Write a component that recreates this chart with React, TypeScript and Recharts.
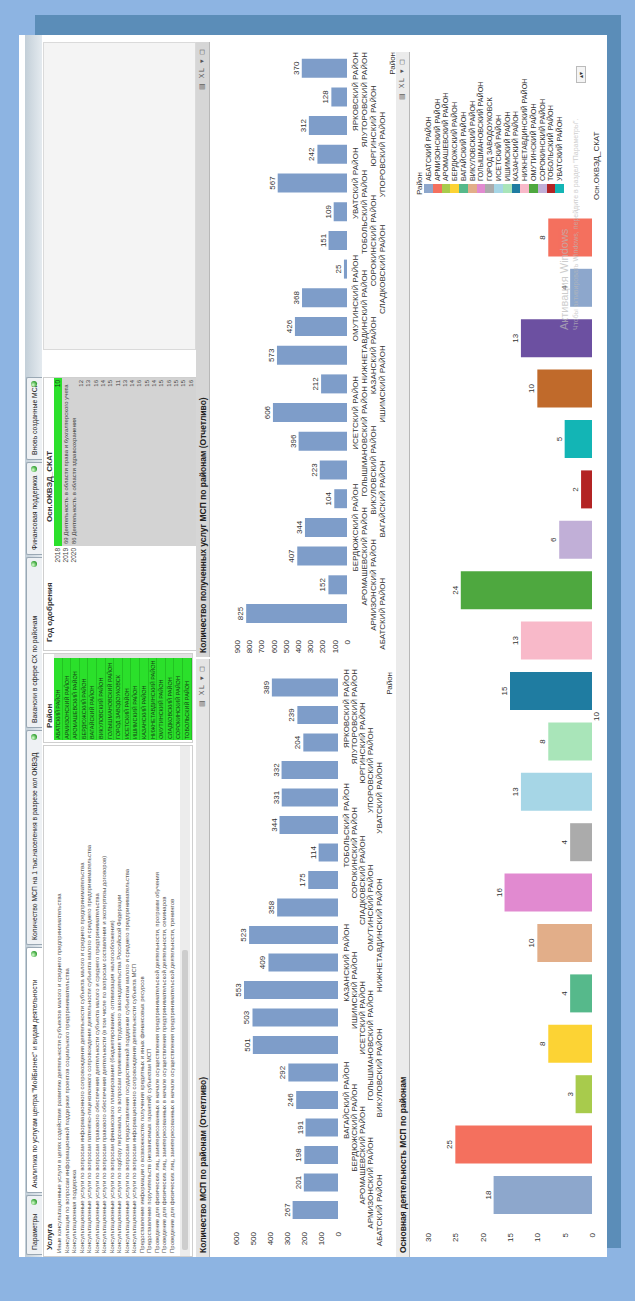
import { BarChart, Bar, XAxis, YAxis, LabelList } from "recharts";

const FONT = "'Liberation Sans', Arial, sans-serif";
const BAR_BLUE = "#7E9DC9";

// --- chart data ---
const districts = [
  "АБАТСКИЙ РАЙОН", "АРМИЗОНСКИЙ РАЙОН", "АРОМАШЕВСКИЙ РАЙОН", "БЕРДЮЖСКИЙ РАЙОН", "ВАГАЙСКИЙ РАЙОН",
  "ВИКУЛОВСКИЙ РАЙОН", "ГОЛЫШМАНОВСКИЙ РАЙОН", "ИСЕТСКИЙ РАЙОН", "ИШИМСКИЙ РАЙОН", "КАЗАНСКИЙ РАЙОН",
  "НИЖНЕТАВДИНСКИЙ РАЙОН", "ОМУТИНСКИЙ РАЙОН", "СЛАДКОВСКИЙ РАЙОН", "СОРОКИНСКИЙ РАЙОН", "ТОБОЛЬСКИЙ РАЙОН",
  "УВАТСКИЙ РАЙОН", "УПОРОВСКИЙ РАЙОН", "ЮРГИНСКИЙ РАЙОН", "ЯЛУТОРОВСКИЙ РАЙОН", "ЯРКОВСКИЙ РАЙОН",
];
const mspCounts = [267, 201, 198, 191, 246, 292, 501, 503, 553, 409, 523, 358, 175, 114, 344, 331, 332, 204, 239, 389];
const serviceCounts = [825, 152, 407, 344, 104, 223, 396, 606, 212, 573, 426, 368, 25, 151, 109, 567, 242, 312, 128, 370];
const mspTicks = [0, 100, 200, 300, 400, 500, 600];
const serviceTicks = [0, 100, 200, 300, 400, 500, 600, 700, 800, 900];

const activityDistricts = [
  "АБАТСКИЙ РАЙОН", "АРМИЗОНСКИЙ РАЙОН", "АРОМАШЕВСКИЙ РАЙОН", "БЕРДЮЖСКИЙ РАЙОН", "ВАГАЙСКИЙ РАЙОН",
  "ВИКУЛОВСКИЙ РАЙОН", "ГОЛЫШМАНОВСКИЙ РАЙОН", "ГОРОД ЗАВОДОУКОВСК", "ИСЕТСКИЙ РАЙОН", "ИШИМСКИЙ РАЙОН",
  "КАЗАНСКИЙ РАЙОН", "НИЖНЕТАВДИНСКИЙ РАЙОН", "ОМУТИНСКИЙ РАЙОН", "СОРОКИНСКИЙ РАЙОН", "ТОБОЛЬСКИЙ РАЙОН",
  "УВАТСКИЙ РАЙОН", "УПОРОВСКИЙ РАЙОН", "ЮРГИНСКИЙ РАЙОН", "ЯЛУТОРОВСКИЙ РАЙОН", "ЯРКОВСКИЙ РАЙОН",
];
const activityCounts = [18, 25, 3, 8, 4, 10, 16, 4, 13, 8, 15, 13, 24, 6, 2, 5, 10, 13, 4, 8];
const activityColors = [
  "#8DA7CC", "#F4705E", "#A8CB4C", "#FCD334", "#56B98B", "#E2AE89", "#E18AD0", "#ABABAB", "#A6D6E6", "#A9E5B9",
  "#1F7CA1", "#F8B9C9", "#4EA83F", "#C1AFD7", "#B32424", "#13B5B5", "#C06A2B", "#6C50A1", "#8DA7CC", "#F4705E",
];
const activityTicks = [0, 5, 10, 15, 20, 25, 30];
const okvedCode = "10";

// --- list boxes / tabs ---
const tabs = [
  { label: "Параметры", from: 2, to: 62, active: false },
  { label: 'Аналитика по услугам центра "МойБизнес" и видам деятельности', from: 64, to: 310, active: true },
  { label: "Количество МСП на 1 тыс.населения в разрезе кол ОКВЭД", from: 312, to: 527, active: false },
  { label: "Вакансии в сфере СХ по районам", from: 529, to: 700, active: false },
  { label: "Финансовая поддержка", from: 702, to: 795, active: false },
  { label: "Вновь созданные МСП", from: 797, to: 880, active: false },
];
const services = [
  "Иные консультационные услуги в целях содействия развитию деятельности субъектов малого и среднего предпринимательства",
  "Консультации по вопросам информационной поддержки проектов социального предпринимательства",
  "Консультационная поддержка",
  "Консультационные услуги по вопросам информационного сопровождения деятельности субъекта малого и среднего предпринимательства",
  "Консультационные услуги по вопросам патентно-лицензионного сопровождения деятельности субъекта малого и среднего предпринимательства",
  "Консультационные услуги по вопросам правового обеспечения деятельности субъекта малого и среднего предпринимательства",
  "Консультационные услуги по вопросам правового обеспечения деятельности (в том числе по вопросам составления и экспертизы договоров)",
  "Консультационные услуги по вопросам финансового планирования (бюджетирование, оптимизация налогообложения)",
  "Консультационные услуги по подбору персонала, по вопросам применения трудового законодательства Российской Федерации",
  "Консультационные услуги по вопросам предоставления государственной поддержки субъектам малого и среднего предпринимательства",
  "Консультационные услуги по вопросам информационного сопровождения деятельности субъекта МСП",
  "Предоставление информации о возможностях получения кредитных и иных финансовых ресурсов",
  "Предоставление поручительств (независимых гарантий) субъектам МСП",
  "Проведение для физических лиц, заинтересованных в начале осуществления предпринимательской деятельности, программ обучения",
  "Проведение для физических лиц, заинтересованных в начале осуществления предпринимательской деятельности, семинаров",
  "Проведение для физических лиц, заинтересованных в начале осуществления предпринимательской деятельности, тренингов",
];
const districtList = [
  "АБАТСКИЙ РАЙОН", "АРМИЗОНСКИЙ РАЙОН", "АРОМАШЕВСКИЙ РАЙОН", "БЕРДЮЖСКИЙ РАЙОН", "ВАГАЙСКИЙ РАЙОН",
  "ВИКУЛОВСКИЙ РАЙОН", "ГОЛЫШМАНОВСКИЙ РАЙОН", "ГОРОД ЗАВОДОУКОВСК", "ИСЕТСКИЙ РАЙОН", "ИШИМСКИЙ РАЙОН",
  "КАЗАНСКИЙ РАЙОН", "НИЖНЕТАВДИНСКИЙ РАЙОН", "ОМУТИНСКИЙ РАЙОН", "СЛАДКОВСКИЙ РАЙОН", "СОРОКИНСКИЙ РАЙОН",
  "ТОБОЛЬСКИЙ РАЙОН",
];
const years = ["2018", "2019", "2020"];
const okvedNamed = ["69 Деятельность в области права и бухгалтерского учета", "86 Деятельность в области здравоохранения"];
const okvedOther = ["12", "13", "16", "14", "15", "11", "13", "14", "16", "15", "14", "15", "16", "15", "15", "16"];

const mspData = districts.map((name, i) => ({ name, value: mspCounts[i] }));
const serviceData = districts.map((name, i) => ({ name, value: serviceCounts[i] }));
const activityRow: Record<string, string | number> = { okved: okvedCode };
activityCounts.forEach((v, i) => {
  activityRow[`d${i}`] = v;
});
const activityData = [activityRow];

type TickProps = {
  x?: number;
  y?: number;
  index?: number;
  payload?: { value: string };
  rows: number;
  first: number;
  step: number;
  maxX: number;
};

// Qlik-style staggered category labels, kept inside the chart's right edge
function StaggerTick({ x = 0, y = 0, index = 0, payload, rows, first, step, maxX }: TickProps) {
  const row = rows - 1 - (index % rows);
  const label = String(payload?.value ?? "");
  const half = (label.length * 5.2) / 2;
  const clamp = x + half > maxX;
  return (
    <text
      x={clamp ? maxX : x}
      y={y + first + row * step}
      textAnchor={clamp ? "end" : "middle"}
      dominantBaseline="central"
      fontSize={8}
      fill="#333"
      fontFamily={FONT}
    >
      {label}
    </text>
  );
}

function Caption({ left, top, width, title, bg }: { left: number; top: number; width: number; title: string; bg: string }) {
  return (
    <div
      style={{
        position: "absolute",
        left,
        top,
        width,
        height: 14,
        background: bg,
        borderBottom: "1px solid #b8b8b8",
        boxSizing: "border-box",
      }}
    >
      <span style={{ position: "absolute", left: 4, top: 2, fontSize: 8.5, fontWeight: "bold", color: "#222", whiteSpace: "nowrap" }}>
        {title}
      </span>
      <span style={{ position: "absolute", right: 5, top: 2, fontSize: 7, color: "#555", letterSpacing: 1.5, whiteSpace: "nowrap" }}>
        ▤ XL ▾ ◻
      </span>
    </div>
  );
}

function TopPanels() {
  return (
    <>
      {/* tab strip */}
      <div style={{ position: "absolute", left: 0, top: 6, width: 1222, height: 17, background: "linear-gradient(#c3cfd8, #e4eaef)" }} />
      {tabs.map((t) => (
        <div
          key={t.label}
          style={{
            position: "absolute",
            left: t.from,
            top: 7,
            width: t.to - t.from,
            height: 16,
            boxSizing: "border-box",
            border: "1px solid #9aa8b4",
            borderBottom: "none",
            borderRadius: "2px 2px 0 0",
            background: t.active ? "#ffffff" : "#eef1f4",
            fontSize: 6.8,
            lineHeight: "15px",
            color: "#222",
            paddingLeft: 4,
            whiteSpace: "nowrap",
          }}
        >
          {t.label}
          <span
            style={{
              position: "absolute",
              right: 3,
              top: 4,
              width: 6,
              height: 6,
              borderRadius: 3,
              background: "radial-gradient(circle at 35% 35%, #d8ffd0, #2e9e2e 70%)",
            }}
          />
        </div>
      ))}

      {/* Услуга */}
      <div style={{ position: "absolute", left: 0, top: 24, width: 512, height: 150, border: "1px solid #cfcfcf", boxSizing: "border-box" }}>
        <div style={{ position: "absolute", left: 6, top: 1, fontSize: 8, fontWeight: "bold", color: "#333" }}>Услуга</div>
        {services.map((s, i) => (
          <div
            key={i}
            style={{ position: "absolute", left: 3, top: 12 + i * 7.5, fontSize: 6, lineHeight: "7.5px", color: "#555", whiteSpace: "nowrap" }}
          >
            {s}
          </div>
        ))}
        <div style={{ position: "absolute", left: 0, top: 136, width: 510, height: 10, background: "#ececec" }} />
        <div style={{ position: "absolute", left: 6, top: 138, width: 300, height: 6, background: "#cdcdcd", borderRadius: 2 }} />
      </div>

      {/* Район */}
      <div style={{ position: "absolute", left: 514, top: 24, width: 90, height: 150, border: "1px solid #cfcfcf", boxSizing: "border-box" }}>
        <div style={{ position: "absolute", left: 14, top: 1, fontSize: 8, fontWeight: "bold", color: "#333" }}>Район</div>
        {districtList.map((d, i) => (
          <div
            key={d}
            style={{
              position: "absolute",
              left: 2,
              top: 10 + i * 8.6,
              width: 82,
              height: 8.6,
              background: "#2BE02B",
              borderBottom: "1px solid #22c422",
              boxSizing: "border-box",
              fontSize: 5.5,
              lineHeight: "8px",
              color: "#143d14",
              paddingLeft: 1,
              whiteSpace: "nowrap",
            }}
          >
            {d}
          </div>
        ))}
        <div style={{ position: "absolute", right: 0, top: 10, width: 4, height: 138, background: "#e2e2e2" }} />
      </div>

      {/* Год одобрения / Осн.ОКВЭД_СКАТ */}
      <div style={{ position: "absolute", left: 606, top: 24, width: 274, height: 154, border: "1px solid #cfcfcf", boxSizing: "border-box" }}>
        <div style={{ position: "absolute", left: 8, top: 1, fontSize: 8, fontWeight: "bold", color: "#333" }}>Год одобрения</div>
        <div style={{ position: "absolute", left: 128, top: 1, fontSize: 8, fontWeight: "bold", color: "#333" }}>Осн.ОКВЭД_СКАТ</div>
        {years.map((y, i) => (
          <div key={y} style={{ position: "absolute", left: 0, width: 102, top: 10 + i * 8, fontSize: 6.5, lineHeight: "8px", color: "#444", textAlign: "right" }}>
            {y}
          </div>
        ))}
        <div
          style={{
            position: "absolute",
            left: 104,
            top: 10,
            width: 168,
            height: 8,
            background: "#2BE02B",
            fontSize: 6.5,
            lineHeight: "8px",
            color: "#143d14",
            textAlign: "right",
            paddingRight: 2,
            boxSizing: "border-box",
          }}
        >
          {okvedCode}
        </div>
        <div style={{ position: "absolute", left: 104, top: 18, width: 168, height: 134, background: "#d3d3d3" }} />
        {okvedNamed.map((s, i) => (
          <div key={s} style={{ position: "absolute", left: 106, top: 19 + i * 7.5, fontSize: 6, lineHeight: "7.5px", color: "#444", whiteSpace: "nowrap" }}>
            {s}
          </div>
        ))}
        {okvedOther.map((s, i) => (
          <div key={i} style={{ position: "absolute", left: 104, width: 166, top: 34 + i * 7.3, fontSize: 6, lineHeight: "7.3px", color: "#444", textAlign: "right" }}>
            {s}
          </div>
        ))}
      </div>

      <div style={{ position: "absolute", left: 907, top: 24, width: 308, height: 153, background: "#f4f4f4", border: "1px solid #dadada", boxSizing: "border-box" }} />
    </>
  );
}

function MspChart() {
  return (
    <div style={{ position: "absolute", left: 0, top: 189 }}>
      <BarChart width={598} height={186} data={mspData} margin={{ top: 28, right: 15, bottom: 0, left: 0 }}>
        <XAxis
          dataKey="name"
          interval={0}
          tickLine={false}
          axisLine={false}
          tickSize={0}
          tickMargin={0}
          height={56}
          tick={<StaggerTick rows={5} first={8} step={8.3} maxX={588} />}
        />
        <YAxis
          domain={[0, 600]}
          ticks={mspTicks}
          interval={0}
          width={33}
          tickLine={false}
          axisLine={false}
          tick={{ fontSize: 8, fill: "#333" }}
        />
        <Bar dataKey="value" fill={BAR_BLUE} barSize={18} isAnimationActive={false}>
          <LabelList dataKey="value" position="top" offset={3} fontSize={8} fill="#333" />
        </Bar>
      </BarChart>
      <div style={{ position: "absolute", left: 545, top: 177, width: 40, textAlign: "right", fontSize: 8, color: "#333" }}>Район</div>
    </div>
  );
}

function ServiceChart() {
  return (
    <div style={{ position: "absolute", left: 600, top: 189 }}>
      <BarChart width={615} height={186} data={serviceData} margin={{ top: 29, right: 12, bottom: 0, left: 0 }}>
        <XAxis
          dataKey="name"
          interval={0}
          tickLine={false}
          axisLine={false}
          tickSize={0}
          tickMargin={0}
          height={47}
          tick={<StaggerTick rows={4} first={8} step={9.3} maxX={605} />}
        />
        <YAxis
          domain={[0, 900]}
          ticks={serviceTicks}
          interval={0}
          width={29}
          tickLine={false}
          axisLine={false}
          tickMargin={6}
          tick={{ fontSize: 8, fill: "#333" }}
        />
        <Bar dataKey="value" fill={BAR_BLUE} barSize={19} isAnimationActive={false}>
          <LabelList dataKey="value" position="top" offset={3} fontSize={8} fill="#333" />
        </Bar>
      </BarChart>
      <div style={{ position: "absolute", left: 565, top: 180, width: 40, textAlign: "right", fontSize: 8, color: "#333" }}>Район</div>
    </div>
  );
}

function ActivityChart() {
  return (
    <div style={{ position: "absolute", left: 0, top: 391 }}>
      <BarChart width={1215} height={197} data={activityData} margin={{ top: 18, right: 166, bottom: 0, left: 0 }} barGap={12.4}>
        <XAxis dataKey="okved" tickLine={false} axisLine={false} tickSize={0} tickMargin={1} height={15} tick={{ fontSize: 8, fill: "#333" }} />
        <YAxis
          domain={[0, 30]}
          ticks={activityTicks}
          interval={0}
          width={32}
          tickLine={false}
          axisLine={false}
          tick={{ fontSize: 8, fill: "#333" }}
        />
        {activityCounts.map((_, i) => (
          <Bar key={i} dataKey={`d${i}`} name={activityDistricts[i]} fill={activityColors[i]} barSize={38} isAnimationActive={false}>
            <LabelList dataKey={`d${i}`} position="top" offset={3} fontSize={8} fill="#333" />
          </Bar>
        ))}
      </BarChart>

      {/* legend */}
      <div style={{ position: "absolute", left: 1062, top: 5, fontSize: 8, color: "#333" }}>Район</div>
      {activityDistricts.slice(0, 16).map((d, i) => (
        <div key={d} style={{ position: "absolute", left: 1064, top: 14 + i * 8.75, height: 8.75, display: "flex", alignItems: "center" }}>
          <span style={{ width: 9, height: 8.75, background: activityColors[i], display: "inline-block" }} />
          <span style={{ marginLeft: 3, fontSize: 7.2, color: "#333", whiteSpace: "nowrap" }}>{d}</span>
        </div>
      ))}
      <div
        style={{
          position: "absolute",
          left: 1174,
          top: 166,
          width: 17,
          height: 10,
          border: "1px solid #bbb",
          boxSizing: "border-box",
          fontSize: 6,
          lineHeight: "8px",
          textAlign: "center",
          color: "#333",
          background: "#f4f4f4",
        }}
      >
        ▴▾
      </div>
      <div style={{ position: "absolute", left: 1057, top: 182, fontSize: 8, color: "#333", whiteSpace: "nowrap" }}>Осн.ОКВЭД_СКАТ</div>

      {/* OS watermark */}
      <div style={{ position: "absolute", left: 927, top: 148, fontSize: 11, color: "#b9b9b9", opacity: 0.7, whiteSpace: "nowrap" }}>
        Активация Windows
      </div>
      <div style={{ position: "absolute", left: 927, top: 162, fontSize: 7, color: "#b9b9b9", opacity: 0.7, whiteSpace: "nowrap" }}>
        Чтобы активировать Windows, перейдите в раздел "Параметры".
      </div>
    </div>
  );
}

export default function App() {
  return (
    <div
      style={{
        position: "absolute",
        left: 0,
        top: 0,
        width: 635,
        height: 1301,
        background: "#8DB4E2",
        overflow: "hidden",
        fontFamily: FONT,
      }}
    >
      <div style={{ position: "absolute", left: 35, top: 15, width: 586, height: 1233, background: "#5B8DB8" }} />
      <div
        style={{
          position: "absolute",
          left: 19,
          top: 1257,
          width: 1222,
          height: 588,
          background: "#ffffff",
          transformOrigin: "0 0",
          transform: "rotate(-90deg)",
          overflow: "hidden",
        }}
      >
        <TopPanels />
        <Caption left={0} top={177} width={598} title="Количество МСП по районам (Отчетливо)" bg="#e4e4e4" />
        <Caption left={600} top={177} width={615} title="Количество полученных услуг МСП по районам (Отчетливо)" bg="#d6d6d6" />
        <MspChart />
        <ServiceChart />
        <Caption left={0} top={377} width={1205} title="Основная деятельность МСП по районам" bg="#ebebeb" />
        <ActivityChart />
      </div>
    </div>
  );
}
